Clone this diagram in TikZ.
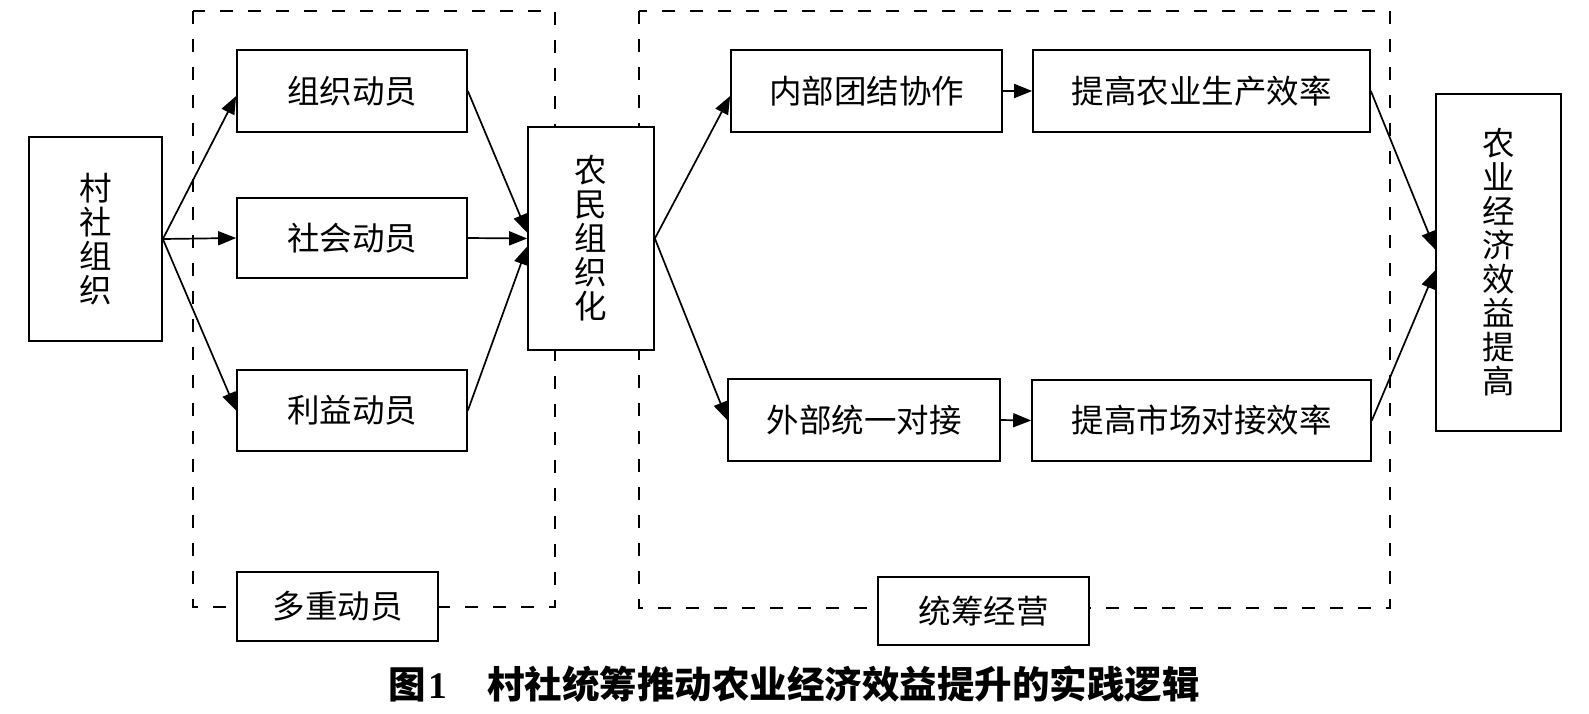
\documentclass[tikz,border=0pt]{standalone}
\usepackage{fontspec}
\setmainfont{Noto Sans CJK SC}
\newfontfamily\serifb{Liberation Serif}
\usetikzlibrary{arrows.meta}
\begin{document}
\begin{tikzpicture}[x=1pt,y=-1pt,
  box/.style={draw, line width=1.7pt, fill=white, inner sep=0pt, align=center,
    font=\fontsize{32.5}{34}\selectfont},
  arr/.style={-{Triangle[length=18pt,width=14pt]}, line width=1.7pt},
  dbox/.style={dash pattern=on 13pt off 15pt, line width=1.7pt}]
\useasboundingbox (0,0) rectangle (1589,713);
% dashed groups
\draw[dbox] (193,11) rectangle (555,607);
\draw[dbox] (639,11) rectangle (1390,608);
% nodes
\node[box, minimum width=133pt, minimum height=204pt] (cs) at (95.5,239) {村\\社\\组\\织};
\node[box, minimum width=230pt, minimum height=82pt] (zz) at (352,91) {组织动员};
\node[box, minimum width=230pt, minimum height=80pt] (sh) at (352,238) {社会动员};
\node[box, minimum width=230pt, minimum height=81pt] (ly) at (352,410.5) {利益动员};
\node[box, minimum width=201pt, minimum height=69pt] (dc) at (337.5,606.5) {多重动员};
\node[box, minimum width=126pt, minimum height=223pt] (nm) at (591,238.5) {农\\民\\组\\织\\化};
\node[box, minimum width=271pt, minimum height=82pt] (nb) at (866.5,91) {内部团结协作};
\node[box, minimum width=337pt, minimum height=82pt] (tn) at (1201.5,91) {提高农业生产效率};
\node[box, minimum width=272pt, minimum height=82pt] (wb) at (864,420) {外部统一对接};
\node[box, minimum width=339pt, minimum height=81pt] (ts) at (1201.5,420.5) {提高市场对接效率};
\node[box, minimum width=211pt, minimum height=68pt] (tc) at (983.5,611) {统筹经营};
\node[box, minimum width=125pt, minimum height=337pt] (ny) at (1498.5,262.5) {农\\业\\经\\济\\效\\益\\提\\高};
% connectors
\draw[arr] (cs.east) -- ([yshift=-5pt]zz.west);
\draw[arr] (cs.east) -- (sh.west);
\draw[arr] (cs.east) -- (ly.west);
\draw[arr] (zz.east) -- ([yshift=6pt]nm.west);
\draw[arr] (sh.east) -- (nm.west);
\draw[arr] (ly.east) -- ([yshift=-8pt]nm.west);
\draw[arr] (nm.east) -- ([yshift=-5pt]nb.west);
\draw[arr] (nm.east) -- (wb.west);
\draw[arr] (nb.east) -- (tn.west);
\draw[arr] (wb.east) -- (ts.west);
\draw[arr] (tn.east) -- ([yshift=13pt]ny.west);
\draw[arr] (ts.east) -- ([yshift=-8pt]ny.west);
% caption
\node[anchor=west, inner sep=0pt, font=\bfseries\fontsize{37.5}{40}\selectfont] (cap) at (388,684)
  {图\hspace{3pt}{\serifb\bfseries 1}\hspace{40pt}村社统筹推动农业经济效益提升的实践逻辑};
\end{tikzpicture}
\end{document}
